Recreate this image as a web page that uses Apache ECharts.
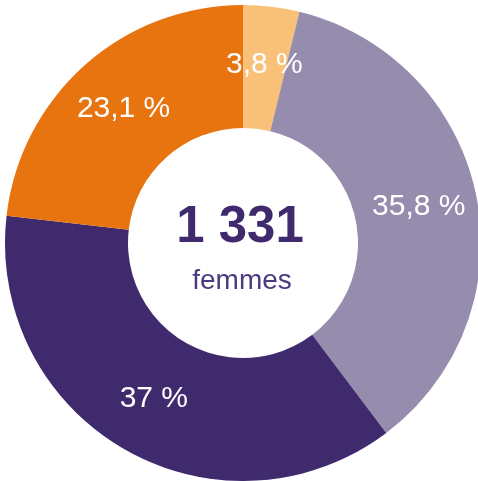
<!DOCTYPE html>
<html><head><meta charset="utf-8">
<script src="https://cdn.jsdelivr.net/npm/echarts@6/dist/echarts.min.js"></script>
<style>html,body{margin:0;padding:0;background:#fff}#c{width:478px;height:481px}</style>
</head><body><div id="c"></div>
<script>
const categories = ['A', 'B', 'C', 'D'];
const values = [3.8, 35.8, 37, 23.1];
const labels = ['3,8 %', '35,8 %', '37 %', '23,1 %'];
const colors = ['#F9C077', '#958CAE', '#3F2A6E', '#E8740F'];
const totalText = '1 331';
const subText = 'femmes';

const chart = echarts.init(document.getElementById('c'), null, {renderer: 'canvas'});
chart.setOption({
  animation: false,
  graphic: [
    {type: 'text', x: 240, y: 228,
     style: {text: totalText, font: 'bold 51px "Liberation Sans", Arial, sans-serif', fill: '#3F2A6E', align: 'center', verticalAlign: 'middle'}},
    {type: 'text', x: 242, y: 281,
     style: {text: subText, font: '28px "Liberation Sans", Arial, sans-serif', fill: '#4B3A80', align: 'center', verticalAlign: 'middle'}}
  ],
  series: [{
    type: 'pie',
    center: [243, 243],
    radius: [115, 238],
    startAngle: 90,
    clockwise: true,
    avoidLabelOverlap: false,
    itemStyle: {borderWidth: 0},
    label: {
      show: true, position: 'inside', color: '#fff',
      fontFamily: '"Liberation Sans", Arial, sans-serif', fontWeight: 'normal', fontSize: 30,
      formatter: p => labels[p.dataIndex]
    },
    labelLine: {show: false},
    emphasis: {disabled: true},
    data: categories.map((c, i) => ({name: c, value: values[i], itemStyle: {color: colors[i]}}))
  }]
});
</script></body></html>
